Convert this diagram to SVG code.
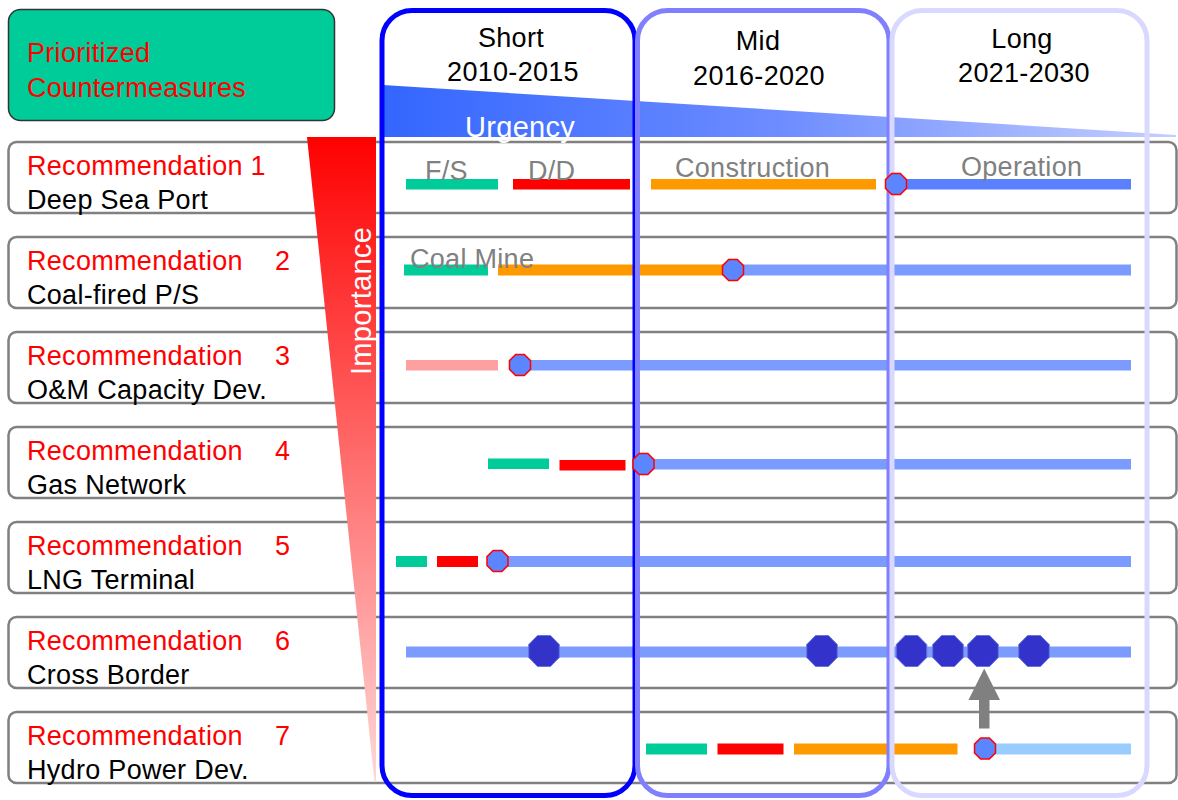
<svg xmlns="http://www.w3.org/2000/svg" xmlns:xlink="http://www.w3.org/1999/xlink" width="1178" height="800" viewBox="0 0 1178 800">
<style>
  text { font-family: "Liberation Sans", Arial, sans-serif; font-size: 27px; letter-spacing: 0.3px; }
  .red { fill: #FF0000; }
  .blk { fill: #000000; }
  .gry { fill: #808080; }
  .wht { fill: #FFFFFF; }
  .hdr { fill: #000000; text-anchor: middle; }
  .row { fill: none; stroke: #808080; stroke-width: 2.5; }
  .col { fill: none; stroke-width: 5; }
  .g { fill: #00CC99; }
  .r { fill: #FF0000; }
  .o { fill: #FF9900; }
  .p { fill: #FFA0A0; }
  .b1 { fill: #5B80FF; }
  .b { fill: #7B9BFF; }
  .lb { fill: #99CCFF; }
  .os { fill: #5B86FF; stroke: #FF0000; stroke-width: 1.5; }
  .ol { fill: #3333CC; stroke: #6677DD; stroke-width: 1; }
</style>
<defs>
  <linearGradient id="urg" gradientUnits="userSpaceOnUse" x1="383" y1="0" x2="1176" y2="0">
    <stop offset="0" stop-color="#3366FF"/>
    <stop offset="0.5" stop-color="#6D8CFF"/>
    <stop offset="1" stop-color="#C4CFFF"/>
  </linearGradient>
  <linearGradient id="imp" gradientUnits="userSpaceOnUse" x1="0" y1="137" x2="0" y2="782">
    <stop offset="0" stop-color="#FF0000"/>
    <stop offset="1" stop-color="#FFD8D8"/>
  </linearGradient>
  <polygon id="octS" points="-4.35,-10.5 4.35,-10.5 10.5,-4.35 10.5,4.35 4.35,10.5 -4.35,10.5 -10.5,4.35 -10.5,-4.35"/>
  <polygon id="octL" points="-6.4,-15.5 6.4,-15.5 15.3,-6.4 15.3,6.4 6.4,15.5 -6.4,15.5 -15.3,6.4 -15.3,-6.4"/>
</defs>
<rect x="0" y="0" width="1178" height="800" fill="#FFFFFF"/>

<g id="title">
  <rect x="8.5" y="9.5" width="326" height="111" rx="12" fill="#00CC99" stroke="#333333" stroke-width="1.5"/>
  <text class="red" x="27" y="62">Prioritized</text>
  <text class="red" x="27" y="96.5">Countermeasures</text>
</g>

<g id="urgency">
  <polygon points="383,85 1176,135 1176,137 383,137" fill="url(#urg)"/>
</g>

<g id="rows">
  <g id="row1">
    <rect class="row" x="8.5" y="142" width="1168" height="71" rx="8"/>
    <text class="red" x="27" y="174.5">Recommendation 1</text>
    <text class="blk" x="27" y="208.5">Deep Sea Port</text>
    <rect class="g" x="406" y="179" width="92" height="10.5"/>
    <rect class="r" x="513" y="179" width="117" height="10.5"/>
    <rect class="o" x="651" y="179" width="225" height="10.5"/>
    <rect class="b1" x="896" y="179" width="235" height="10.5"/>
    <text class="gry" x="425" y="180">F/S</text>
    <text class="gry" x="528" y="180">D/D</text>
    <text class="gry" x="675" y="177">Construction</text>
    <text class="gry" x="961" y="176">Operation</text>
  </g>
  <g id="row2">
    <rect class="row" x="8.5" y="237" width="1168" height="71" rx="8"/>
    <text class="red" x="27" y="269.5">Recommendation<tspan x="275">2</tspan></text>
    <text class="blk" x="27" y="303.5">Coal-fired P/S</text>
    <rect class="g" x="404" y="264.5" width="84" height="11"/>
    <rect class="o" x="498" y="264.5" width="235" height="11"/>
    <rect class="b" x="733" y="264.5" width="398" height="11"/>
    <text class="gry" x="410" y="268">Coal Mine</text>
  </g>
  <g id="row3">
    <rect class="row" x="8.5" y="332" width="1168" height="71" rx="8"/>
    <text class="red" x="27" y="364.5">Recommendation<tspan x="275">3</tspan></text>
    <text class="blk" x="27" y="398.5">O&amp;M Capacity Dev.</text>
    <rect class="p" x="406" y="360" width="92" height="10.5"/>
    <rect class="b" x="520" y="360" width="611" height="10.5"/>
  </g>
  <g id="row4">
    <rect class="row" x="8.5" y="427" width="1168" height="71" rx="8"/>
    <text class="red" x="27" y="459.5">Recommendation<tspan x="275">4</tspan></text>
    <text class="blk" x="27" y="493.5">Gas Network</text>
    <rect class="g" x="488" y="458.5" width="61" height="10.5"/>
    <rect class="r" x="559.5" y="460" width="66" height="10.5"/>
    <rect class="b" x="643" y="459" width="488" height="10.5"/>
  </g>
  <g id="row5">
    <rect class="row" x="8.5" y="522" width="1168" height="71" rx="8"/>
    <text class="red" x="27" y="554.5">Recommendation<tspan x="275">5</tspan></text>
    <text class="blk" x="27" y="588.5">LNG Terminal</text>
    <rect class="g" x="396" y="556" width="31" height="11"/>
    <rect class="r" x="437" y="556" width="41" height="11"/>
    <rect class="b" x="498" y="556" width="633" height="11"/>
  </g>
  <g id="row6">
    <rect class="row" x="8.5" y="617" width="1168" height="71" rx="8"/>
    <text class="red" x="27" y="649.5">Recommendation<tspan x="275">6</tspan></text>
    <text class="blk" x="27" y="683.5">Cross Border</text>
    <rect class="b" x="406" y="646.5" width="725" height="11"/>
  </g>
  <g id="row7">
    <rect class="row" x="8.5" y="712" width="1168" height="71" rx="8"/>
    <text class="red" x="27" y="744.5">Recommendation<tspan x="275">7</tspan></text>
    <text class="blk" x="27" y="778.5">Hydro Power Dev.</text>
    <rect class="g" x="646" y="743.5" width="61" height="11"/>
    <rect class="r" x="717.5" y="743.5" width="66" height="11"/>
    <rect class="o" x="794" y="743.5" width="163.5" height="11"/>
    <rect class="lb" x="994" y="743.5" width="137" height="11"/>
  </g>
</g>

<g id="importance">
  <polygon points="307,137 376,137 376,782 374.5,782" fill="url(#imp)"/>
  <text class="wht" transform="translate(371,375) rotate(-90)" style="font-size:29px">Importance</text>
</g>

<g id="columns">
  <g id="col-short">
    <rect class="col" x="382" y="10.5" width="253" height="785" rx="30" stroke="#0000FF"/>
    <text class="hdr" x="511" y="47">Short</text>
    <text class="hdr" x="513" y="81">2010-2015</text>
  </g>
  <g id="col-mid">
    <rect class="col" x="637.5" y="10.5" width="251.5" height="785" rx="30" stroke="#8080FF"/>
    <text class="hdr" x="758" y="50">Mid</text>
    <text class="hdr" x="759" y="84.5">2016-2020</text>
  </g>
  <g id="col-long">
    <rect class="col" x="892" y="10.5" width="255" height="785" rx="30" stroke="#D9D9FF"/>
    <text class="hdr" x="1022" y="48">Long</text>
    <text class="hdr" x="1024" y="82">2021-2030</text>
  </g>
</g>

<text class="wht" x="465" y="136.5" style="font-size:29px">Urgency</text>

<g id="milestones">
  <use xlink:href="#octS" class="os" x="896" y="184"/>
  <use xlink:href="#octS" class="os" x="733" y="270"/>
  <use xlink:href="#octS" class="os" x="520" y="365"/>
  <use xlink:href="#octS" class="os" x="643.5" y="464"/>
  <use xlink:href="#octS" class="os" x="497.5" y="561"/>
  <use xlink:href="#octL" class="ol" x="544" y="651"/>
  <use xlink:href="#octL" class="ol" x="822" y="651"/>
  <use xlink:href="#octL" class="ol" x="911.5" y="651"/>
  <use xlink:href="#octL" class="ol" x="948" y="651"/>
  <use xlink:href="#octL" class="ol" x="983" y="651"/>
  <use xlink:href="#octL" class="ol" x="1034" y="651"/>
  <use xlink:href="#octS" class="os" x="985" y="748.5"/>
</g>

<g id="connectors">
  <polygon points="979,728.5 989.5,728.5 989.5,700 1000,700 984.2,668.5 968.5,700 979,700" fill="#808080"/>
</g>
</svg>
